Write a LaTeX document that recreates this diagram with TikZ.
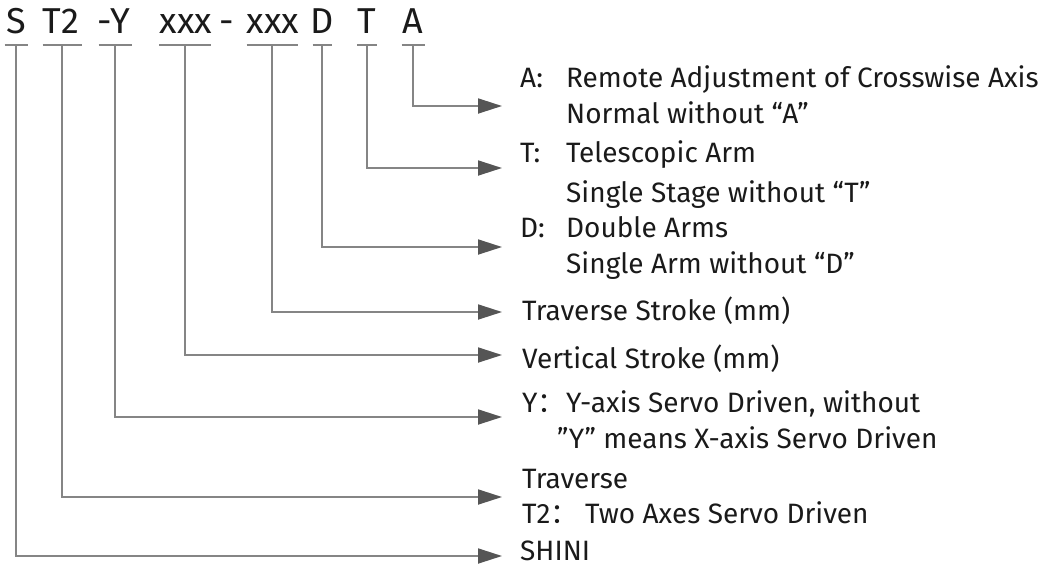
\documentclass[tikz,border=0pt]{standalone}
\usepackage{fontspec}
\setmainfont{Fira Sans}
\newfontfamily\cjk{Noto Sans CJK SC}
\usetikzlibrary{arrows.meta}
\definecolor{linie}{HTML}{858585}
\definecolor{spitze}{HTML}{555555}
\definecolor{schrift}{HTML}{1A1A1A}
\begin{document}
\begin{tikzpicture}[x=1pt,y=-1pt,
	kopf/.style={text=schrift,font=\fontsize{36}{40}\selectfont,anchor=base,inner sep=0pt},
	beschr/.style={text=schrift,font=\fontsize{28}{34}\selectfont,anchor=base west,inner sep=0pt},
	strich/.style={linie,line width=1.8pt},
	pfeil/.style={linie,line width=1.8pt,-{Triangle[length=24pt,width=15pt,color=spitze]}}]
		\useasboundingbox (0,0) rectangle (1053,568);
		%%%% Typenschluessel
		\foreach \n/\t/\x in {S/S/16,T2/T2/61,Y/-Y/114,X1/xxx/186,M/-/227,X2/xxx/273,D/D/322,T/T/367,A/A/413} {
			\node[kopf] (k\n) at (\x,33) {\t};
		}
		% Striche unter den Zeichen
		\foreach \n/\x/\b in {S/16/23,T2/62/39,Y/115/33,X1/185/52,X2/272/51,D/322/19,T/367/20,A/413/23} {
			\draw[strich] (\x-\b/2,45) -- (\x+\b/2,45);
			\coordinate (s\n) at (\x,45);
		}
		% Pfeile
		\foreach \n/\y in {A/106,T/168,D/247,X2/312,X1/355,Y/417,T2/497,S/556} {
			\coordinate (e\n) at (502,\y);
			\draw[pfeil] (s\n) |- (e\n);
		}
		%%%% Beschreibungen
		\node[beschr] (bA1) at (520,87) {\makebox[46pt][l]{A:}Remote Adjustment of Crosswise Axis};
		\node[beschr] (bA2) at (566,123) {Normal without “A”};
		\node[beschr] (bT1) at (520,162) {\makebox[46pt][l]{T:}Telescopic Arm};
		\node[beschr] (bT2) at (566,202) {Single Stage without “T”};
		\node[beschr] (bD1) at (520,237) {\makebox[46pt][l]{D:}Double Arms};
		\node[beschr] (bD2) at (566,273) {Single Arm without “D”};
		\node[beschr] (bX2) at (522,320) {Traverse Stroke (mm)};
		\node[beschr] (bX1) at (522,368) {Vertical Stroke (mm)};
		\node[beschr] (bY1) at (522,412) {\makebox[44pt][l]{Y{\cjk ：}}Y-axis Servo Driven, without};
		\node[beschr] (bY2) at (557,448) {”Y” means X-axis Servo Driven};
		\node[beschr] (bQ1) at (522,488) {Traverse};
		\node[beschr] (bQ2) at (522,523) {\makebox[63pt][l]{T2{\cjk ：}}Two Axes Servo Driven};
		\node[beschr] (bS) at (520,560) {SHINI};
\end{tikzpicture}
\end{document}
